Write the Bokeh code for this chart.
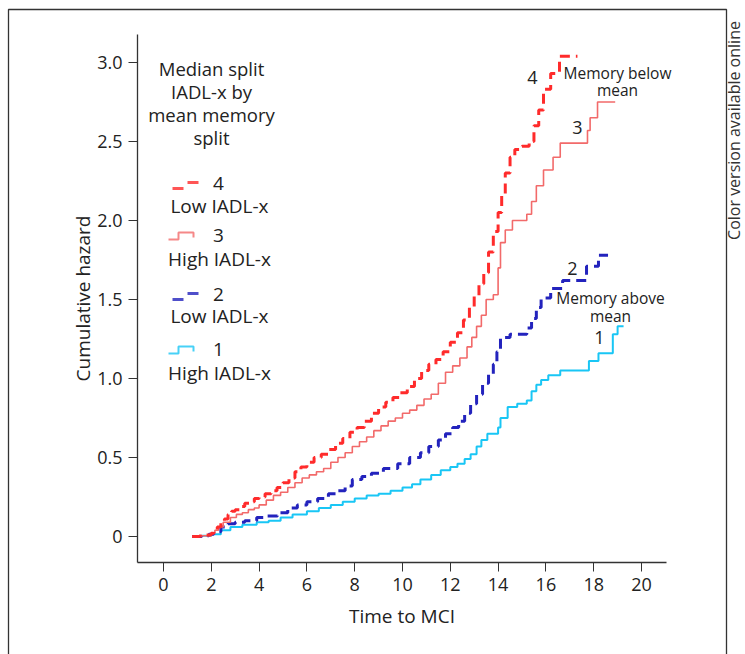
import math
from bokeh.plotting import figure
from bokeh.models import Label, FixedTicker, Range1d
from bokeh.embed import file_html
from bokeh.resources import INLINE

# ---------------- data ----------------
# Group 4: memory below mean, low IADL-x (red dashed)
t4 = [1.2, 1.5, 1.8, 2.0, 2.1, 2.25, 2.4, 2.55, 2.7, 2.85, 3.0, 3.2, 3.4, 3.6, 3.8, 4.0,
      4.25, 4.5, 4.75, 5.0, 5.25, 5.5, 5.75, 6.0, 6.3, 6.6, 6.9, 7.2, 7.5, 7.8, 8.1, 8.4,
      8.7, 9.0, 9.3, 9.6, 9.9, 10.2, 10.5, 10.8, 11.1, 11.4, 11.7, 12.0, 12.3, 12.55, 12.8,
      13.0, 13.2, 13.4, 13.6, 13.8, 14.0, 14.15, 14.3, 14.5, 14.7, 15.0, 15.3, 15.5, 15.7,
      15.9, 16.2, 16.57, 17.32]
h4 = [0.0, 0.003, 0.01, 0.02, 0.035, 0.06, 0.085, 0.11, 0.14, 0.16, 0.17, 0.19, 0.21, 0.22, 0.24, 0.25,
      0.27, 0.29, 0.31, 0.34, 0.37, 0.41, 0.44, 0.47, 0.5, 0.52, 0.55, 0.59, 0.62, 0.66, 0.69, 0.73,
      0.78, 0.82, 0.85, 0.88, 0.91, 0.95, 1.0, 1.05, 1.09, 1.12, 1.17, 1.23, 1.29, 1.37, 1.45,
      1.52, 1.6, 1.67, 1.8, 1.93, 2.05, 2.16, 2.3, 2.4, 2.45, 2.47, 2.5, 2.6, 2.7,
      2.83, 2.93, 3.04, 3.04]

# Group 3: memory below mean, high IADL-x (light red solid)
t3 = [1.2, 1.6, 1.97, 2.15, 2.3, 2.5, 2.8, 3.05, 3.3, 3.55, 3.8, 4.0, 4.3, 4.6, 4.9, 5.2,
      5.5, 5.8, 6.1, 6.4, 6.7, 7.0, 7.3, 7.6, 7.9, 8.2, 8.5, 8.8, 9.1, 9.4, 9.7, 10.0, 10.3,
      10.6, 10.9, 11.2, 11.5, 11.8, 12.1, 12.4, 12.7, 12.9, 13.1, 13.3, 13.5, 13.8, 14.0,
      14.1, 14.3, 14.6, 15.2, 15.4, 15.6, 15.9, 16.3, 16.6, 17.74, 17.85, 18.16, 18.9]
h3 = [0.0, 0.005, 0.02, 0.04, 0.06, 0.09, 0.12, 0.14, 0.15, 0.17, 0.18, 0.2, 0.23, 0.26, 0.28, 0.31,
      0.34, 0.37, 0.39, 0.41, 0.43, 0.47, 0.5, 0.53, 0.57, 0.6, 0.63, 0.67, 0.7, 0.73, 0.75, 0.78, 0.8,
      0.83, 0.87, 0.9, 0.97, 1.04, 1.08, 1.13, 1.2, 1.26, 1.33, 1.4, 1.5, 1.53, 1.7,
      1.86, 1.94, 2.0, 2.04, 2.12, 2.22, 2.32, 2.4, 2.49, 2.57, 2.65, 2.75, 2.75]

# Group 2: memory above mean, low IADL-x (blue dashed)
t2 = [1.2, 1.6, 1.9, 2.1, 2.4, 2.7, 3.0, 3.4, 3.9, 4.3, 4.77, 5.2, 5.6, 6.0, 6.45, 6.9,
      7.3, 7.6, 7.9, 8.3, 8.7, 9.2, 9.8, 10.3, 10.75, 11.1, 11.5, 11.8, 12.1, 12.35, 12.6,
      12.85, 13.1, 13.35, 13.6, 13.8, 13.95, 14.1, 14.5, 15.2, 15.4, 15.6, 15.8, 16.2, 16.7,
      17.7, 18.2, 18.6]
h2 = [0.0, 0.005, 0.015, 0.03, 0.06, 0.08, 0.09, 0.1, 0.12, 0.13, 0.15, 0.18, 0.2, 0.22, 0.24, 0.27,
      0.29, 0.32, 0.36, 0.38, 0.4, 0.43, 0.46, 0.5, 0.53, 0.57, 0.61, 0.65, 0.69, 0.73, 0.78,
      0.84, 0.9, 0.97, 1.03, 1.09, 1.17, 1.26, 1.28, 1.32, 1.38, 1.45, 1.51, 1.57, 1.62,
      1.71, 1.78, 1.78]

# Group 1: memory above mean, high IADL-x (cyan solid)
t1 = [1.2, 1.6, 2.0, 2.4, 2.8, 3.3, 3.9, 4.4, 4.9, 5.4, 6.0, 6.5, 7.0, 7.5, 8.0, 8.5,
      9.0, 9.5, 10.0, 10.4, 10.75, 11.2, 11.6, 12.0, 12.3, 12.6, 12.85, 13.1, 13.3, 13.55,
      14.0, 14.1, 14.4, 14.8, 15.2, 15.4, 15.6, 15.8, 16.1, 16.6, 17.8, 18.2, 18.8, 19.0,
      19.25]
h1 = [0.0, 0.005, 0.015, 0.04, 0.06, 0.075, 0.09, 0.1, 0.12, 0.14, 0.16, 0.18, 0.2, 0.22, 0.24, 0.26,
      0.27, 0.29, 0.31, 0.33, 0.36, 0.39, 0.42, 0.44, 0.46, 0.49, 0.52, 0.57, 0.61, 0.65,
      0.69, 0.75, 0.82, 0.84, 0.86, 0.92, 0.96, 0.99, 1.02, 1.05, 1.11, 1.16, 1.28, 1.33,
      1.33]

x_ticks = [0, 2, 4, 6, 8, 10, 12, 14, 16, 18, 20]
y_ticks = [0, 0.5, 1.0, 1.5, 2.0, 2.5, 3.0]
y_tick_labels = ["0", "0.5", "1.0", "1.5", "2.0", "2.5", "3.0"]

legend_title = ["Median split", "IADL-x by", "mean memory", "split"]
group_numbers = ["4", "3", "2", "1"]
group_names = ["Low IADL-x", "High IADL-x", "Low IADL-x", "High IADL-x"]

# ---------------- layout (pixel geometry of the canvas) ----------------
W, H = 745, 654
X0_PX, X_PX_PER_UNIT = 163.0, 23.9      # where x=0 sits, pixels per unit
Y0_PX, Y_PX_PER_UNIT = 536.0, 158.0     # where y=0 sits, pixels per unit


def px2x(px):
    return (px - X0_PX) / X_PX_PER_UNIT


def py2y(py):
    return (Y0_PX - py) / Y_PX_PER_UNIT


FONT = "Open Sans"
TXT = "#222222"
C4, C3, C2, C1 = "#ff2b2b", "#f26a6a", "#2323bd", "#19c6f5"
DASH = "10 6"

p = figure(width=W, height=H,
           x_range=Range1d(px2x(0), px2x(W)), y_range=Range1d(py2y(H), py2y(0)),
           output_backend="svg", toolbar_location=None,
           min_border_left=0, min_border_right=0, min_border_top=0, min_border_bottom=0)
p.grid.visible = False
p.outline_line_color = None
p.background_fill_color = "white"
p.border_fill_color = "white"

# axes drawn inside the canvas at fixed positions
p.yaxis.fixed_location = px2x(137)
p.yaxis.bounds = (py2y(562), py2y(34))
p.xaxis.fixed_location = py2y(562)
p.xaxis.bounds = (px2x(137), px2x(666))

for ax in (p.xaxis[0], p.yaxis[0]):
    ax.axis_line_color = "#333333"
    ax.axis_line_width = 1.3
    ax.major_tick_line_color = "#333333"
    ax.major_tick_in = 0
    ax.major_tick_out = 9
    ax.minor_tick_line_color = None
    ax.major_label_text_font = FONT
    ax.major_label_text_font_size = "18px"
    ax.major_label_text_color = TXT
    ax.axis_label_text_font = FONT
    ax.axis_label_text_font_size = "19px"
    ax.axis_label_text_font_style = "normal"
    ax.axis_label_text_color = TXT

p.xaxis.ticker = FixedTicker(ticks=x_ticks)
p.xaxis.axis_label = "Time to MCI"
p.xaxis.major_label_standoff = 6
p.xaxis.axis_label_standoff = 9

p.yaxis.ticker = FixedTicker(ticks=y_ticks)
p.yaxis.major_label_overrides = {t: s for t, s in zip(y_ticks, y_tick_labels)}
p.yaxis.axis_label = "Cumulative hazard"
p.yaxis.major_label_standoff = 6
p.yaxis.axis_label_standoff = -2

# outer panel frame (open at the bottom)
p.line([px2x(8), px2x(8), px2x(726), px2x(726)],
       [py2y(H + 10), py2y(9), py2y(9), py2y(H + 10)],
       line_color="#333333", line_width=1.3)

# ---------------- curves ----------------
p.step(t1, h1, mode="after", line_color=C1, line_width=2)
p.step(t2, h2, mode="after", line_color=C2, line_width=3, line_dash=DASH)
p.step(t3, h3, mode="after", line_color=C3, line_width=1.6)
p.step(t4, h4, mode="after", line_color=C4, line_width=3, line_dash=DASH)


# ---------------- texts ----------------
def lab(px, py, text, size="17px", angle=0.0, color=TXT, baseline="middle"):
    p.add_layout(Label(x=px2x(px), y=py2y(py), text=text, text_font=FONT, text_font_size=size,
                       text_color=color, text_align="center", text_baseline=baseline,
                       angle=angle))


for i, line in enumerate(legend_title):
    lab(211, 68 + i * 23, line, size="18.5px")

key_py = [183, 235, 294, 349]
name_py = [205, 258, 315, 372]
key_col = [C4, C3, C2, C1]
key_dash = [True, False, True, False]
for ky, ny, num, name, col, dashed in zip(key_py, name_py, group_numbers, group_names, key_col, key_dash):
    if dashed:
        p.multi_line([[px2x(172), px2x(183)], [px2x(187), px2x(198)]],
                     [[py2y(ky + 5), py2y(ky + 5)], [py2y(ky - 1), py2y(ky - 1)]],
                     line_color=col, line_width=3, alpha=0.8)
    else:
        p.line([px2x(168), px2x(178), px2x(178), px2x(193), px2x(193)],
               [py2y(ky + 4), py2y(ky + 4), py2y(ky - 3), py2y(ky - 3), py2y(ky + 2)],
               line_color=col, line_width=2, alpha=0.8)
    lab(218, ky, num, size="19px")
    lab(219, ny, name, size="19px")

lab(532, 77, "4", size="18px")
lab(617, 72, "Memory below", size="15.5px")
lab(617, 89, "mean", size="15.5px")
lab(577, 127, "3", size="18px")
lab(572, 268, "2", size="18px")
lab(610, 297, "Memory above", size="15.5px")
lab(610, 315, "mean", size="15.5px")
lab(599, 337, "1", size="18px")

# side note, reading bottom to top, kept inside the canvas
lab(744, 130, "Color version available online", size="16px", angle=math.pi / 2,
    color="#333333", baseline="bottom")

open("out.html", "w").write(file_html(p, INLINE))
